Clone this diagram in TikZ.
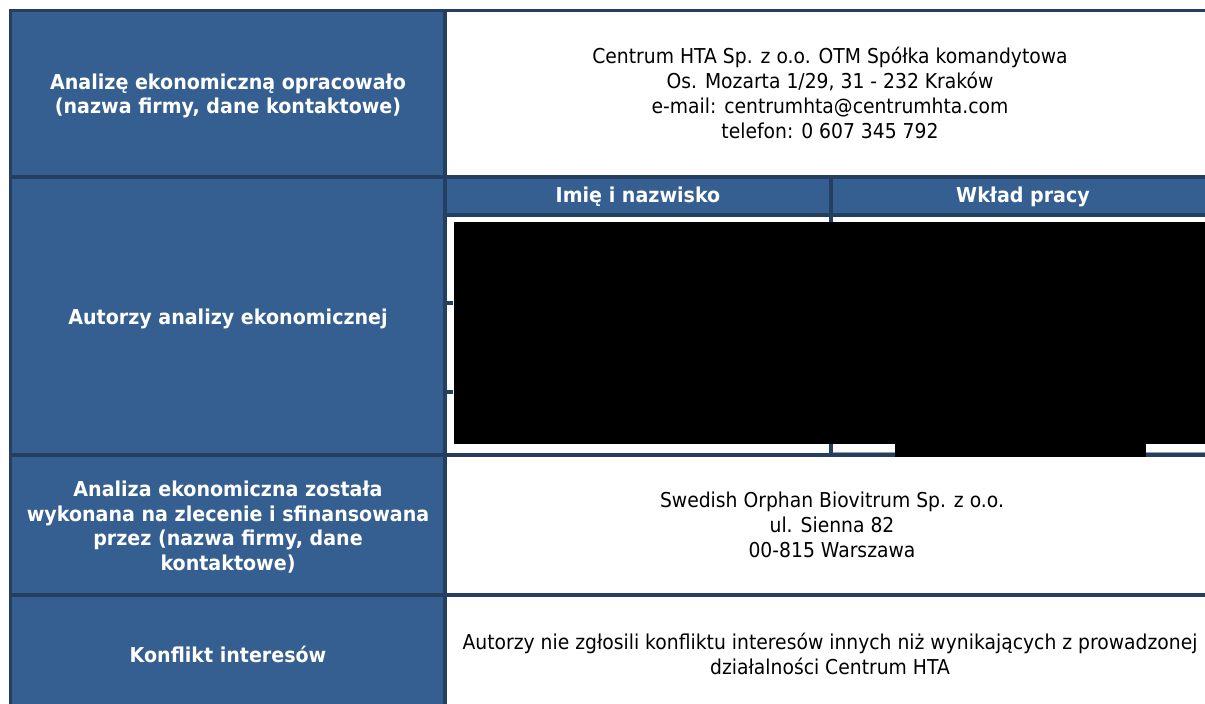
\documentclass[tikz,border=0pt]{standalone}
\usepackage{fontspec}
\usepackage{tikz}
\newfontfamily\tahoma[FakeStretch=0.915, BoldFeatures={FakeStretch=0.93}]{DejaVu Sans}
\definecolor{tblue}{HTML}{365F91}
\definecolor{tline}{HTML}{243F60}
\newcommand{\labfont}{\tahoma\bfseries\fontsize{20.5}{24.5}\selectfont}
\newcommand{\valfont}{\tahoma\fontsize{20.5}{25}\selectfont}

\begin{document}
\begin{tikzpicture}[x=1pt, y=-1pt,
    lab/.style={align=center, text=white, font=\labfont, inner sep=0pt},
    val/.style={align=center, text=black, font=\valfont, inner sep=0pt}]
  \useasboundingbox (0,0) rectangle (1205,704);
  \clip (0,0) rectangle (1205,704);
  % cells
  \fill [tblue] (12,12) rectangle (443,710);
  \fill [tblue] (447,178) rectangle (1215,213);
  % lines
  \fill [tline] (9,9) rectangle (1215,12);
  \fill [tline] (9,9) rectangle (12,710);
  \fill [tline] (443,9) rectangle (447,710);
  \fill [tline] (9,174.5) rectangle (1215,178.5);
  \fill [tline] (447,213) rectangle (1215,217);
  \fill [tline] (829,178) rectangle (833,222);
  \fill [tline] (9,453) rectangle (1215,457);
  \fill [tline] (9,593) rectangle (1215,597);
  \fill [tline!50] (833,452) rectangle (1215,453);
  \fill [tline] (447,301) rectangle (453,305);
  \fill [tline] (447,390) rectangle (453,394);
  \fill [tline] (829,444) rectangle (833,453);
  % redacted part
  \fill [black] (454,222) rectangle (1215,444);
  \fill [black] (895,444) rectangle (1146,457);
  % texts
  \node [lab] (firma) at (228,96) {Analizę ekonomiczną opracowało\\(nazwa firmy, dane kontaktowe)};
  \node [val] (adres) at (830,93) {Centrum HTA Sp. z o.o. OTM Spółka komandytowa\\Os. Mozarta 1/29, 31 - 232 Kraków\\e-mail: centrumhta@centrumhta.com\\telefon: 0 607 345 792};
  \node [lab] (imie) at (638,197) {Imię i nazwisko};
  \node [lab] (wklad) at (1023,197) {Wkład pracy};
  \node [lab] (autorzy) at (228,319) {Autorzy analizy ekonomicznej};
  \node [lab] (zlecenie) at (228,527) {Analiza ekonomiczna została\\wykonana na zlecenie i sfinansowana\\przez (nazwa firmy, dane\\kontaktowe)};
  \node [val] (sponsor) at (832,525) {Swedish Orphan Biovitrum Sp. z o.o.\\ul. Sienna 82\\00-815 Warszawa};
  \node [lab] (konflikt) at (228,654) {Konflikt interesów};
  \node [val] (oswiadczenie) at (830,654) {Autorzy nie zgłosili konfliktu interesów innych niż wynikających z prowadzonej\\działalności Centrum HTA};
\end{tikzpicture}
\end{document}
